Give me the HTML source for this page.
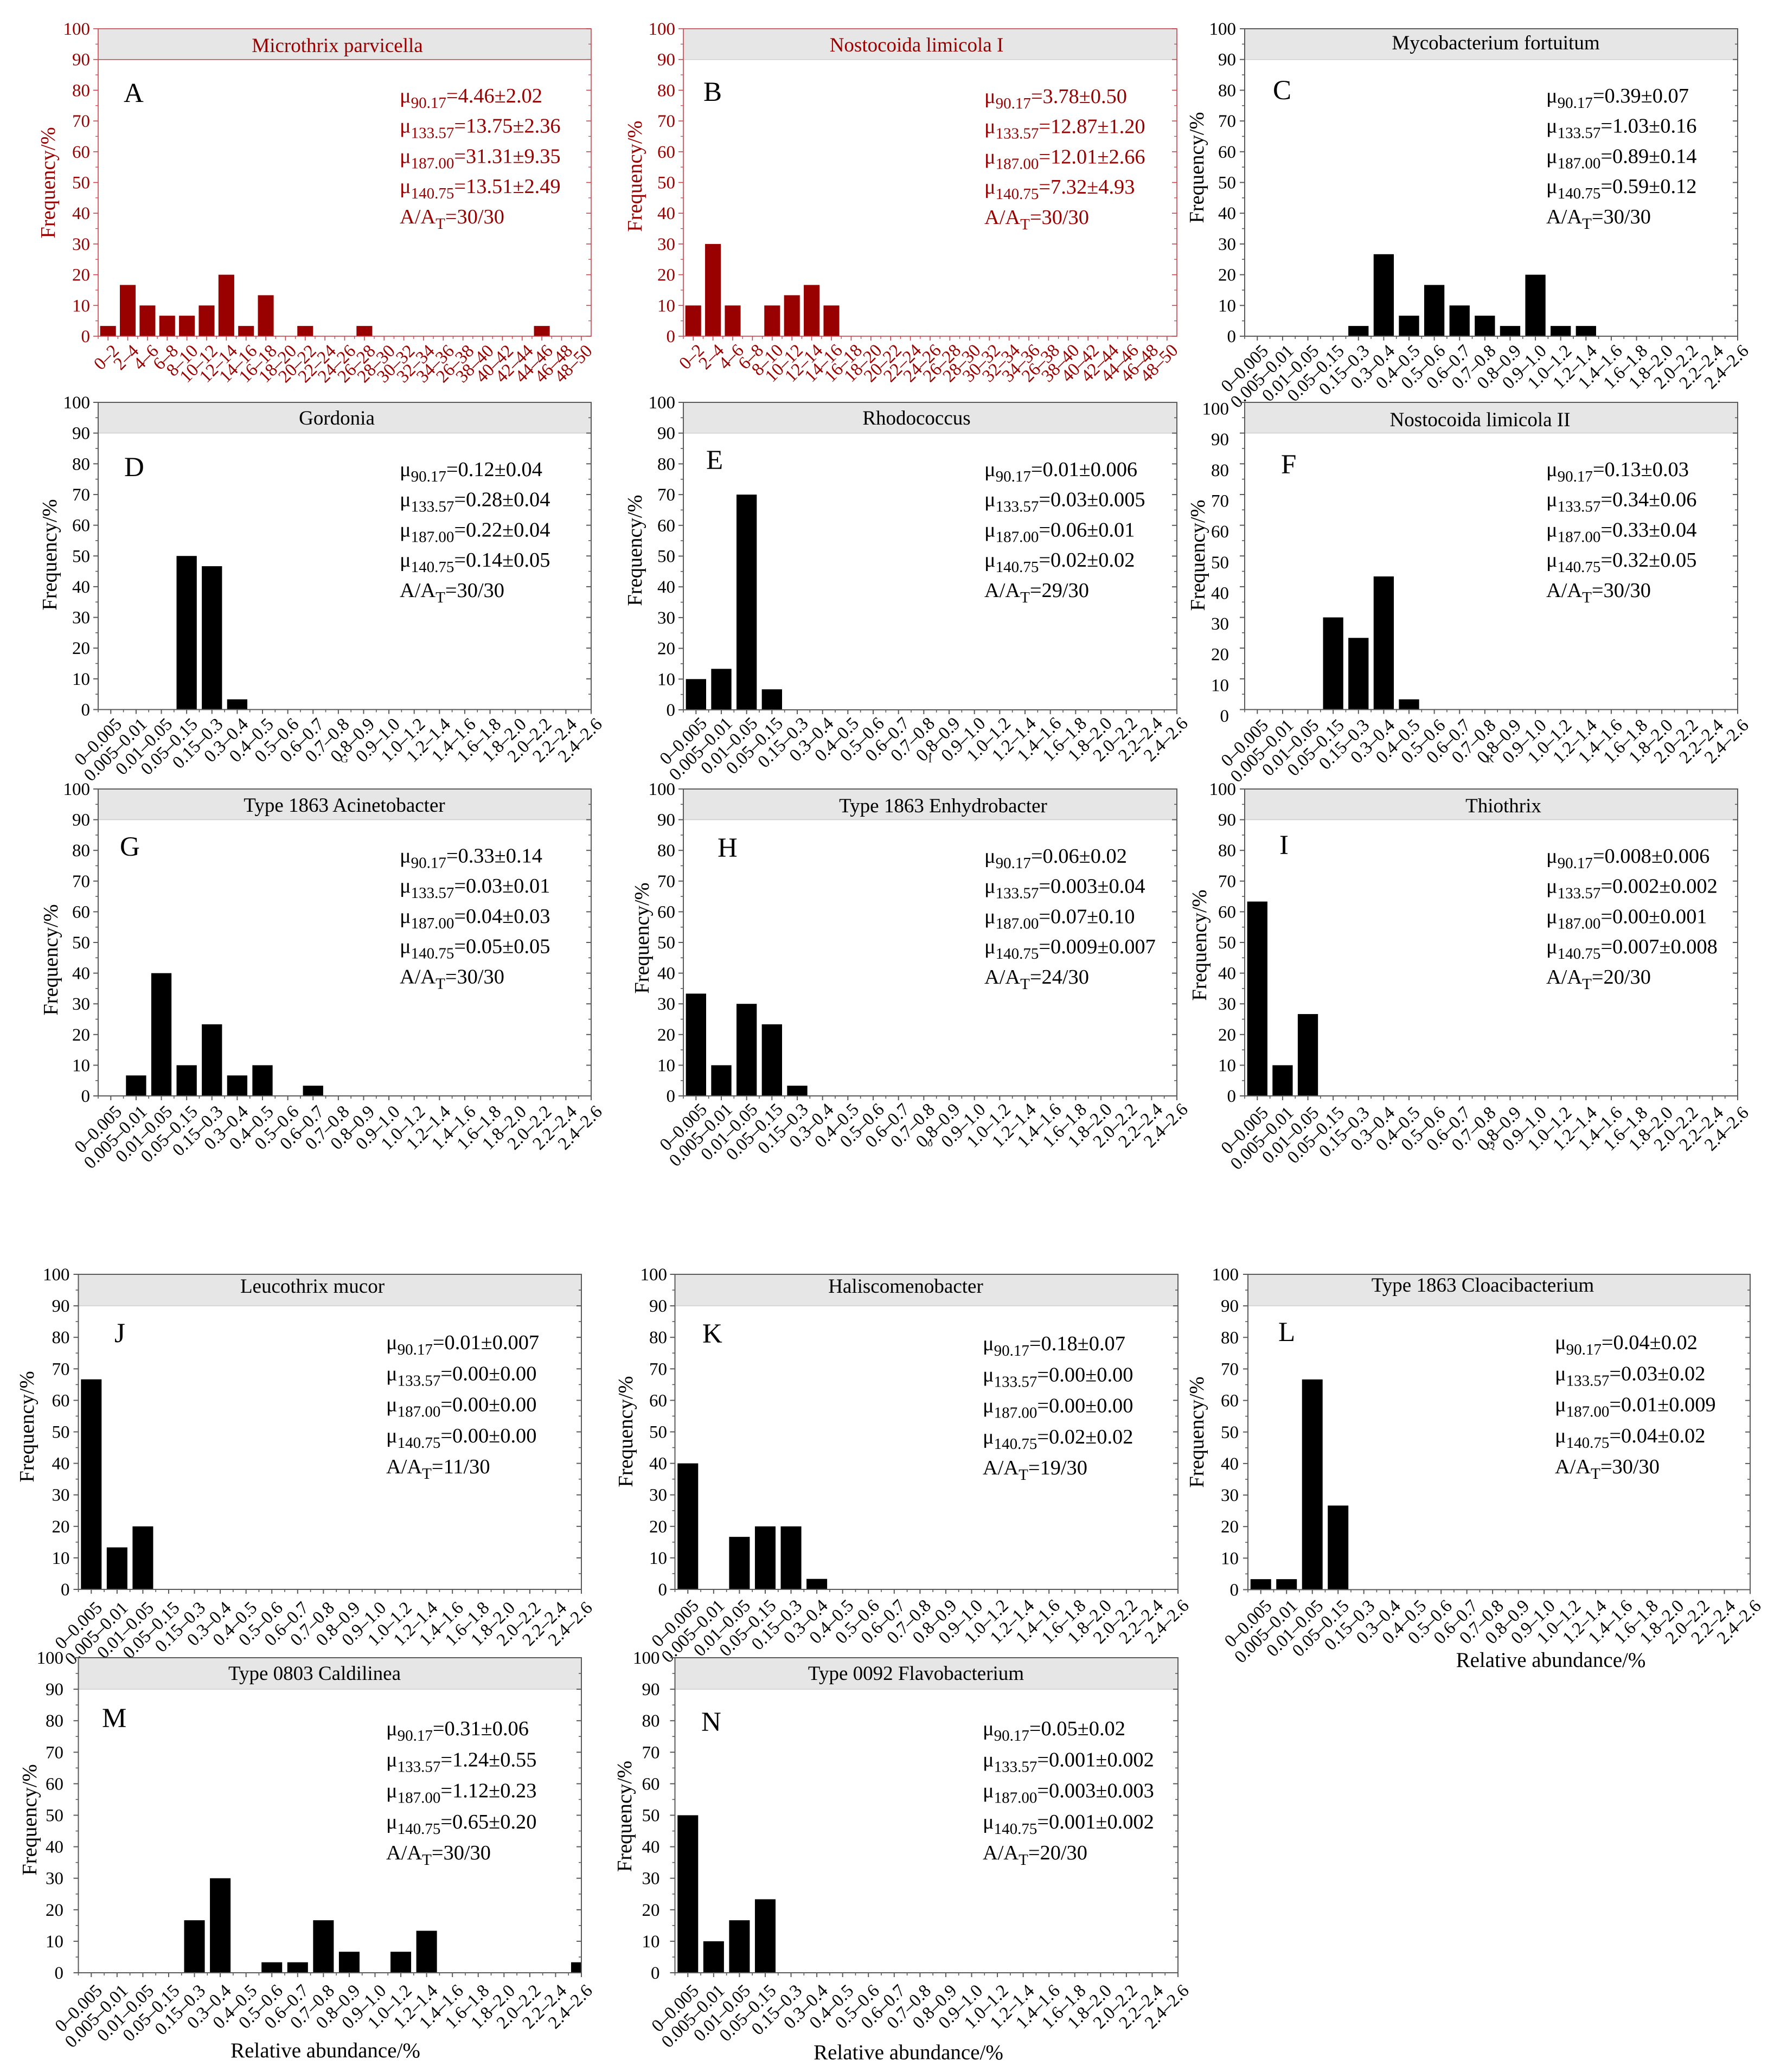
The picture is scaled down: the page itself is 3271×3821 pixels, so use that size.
<!DOCTYPE html>
<html lang="en">
<head>
<meta charset="utf-8">
<title>Frequency histograms of filamentous bacteria relative abundance</title>
<style>
  html, body { margin: 0; padding: 0; background: #ffffff; }
  svg { display: block; font-family: "Liberation Serif", "Times New Roman", serif; }
</style>
</head>
<body>
<svg id="figure" xmlns="http://www.w3.org/2000/svg" width="3271" height="3821" viewBox="0 0 3271 3821">
  <rect x="0" y="0" width="3271" height="3821" fill="#ffffff"></rect>
</svg>
<script>
const yTicks = [0, 10, 20, 30, 40, 50, 60, 70, 80, 90, 100];
const yMinorTicks = [5, 15, 25, 35, 45, 55, 65, 75, 85, 95];
const filamentBins = ['0–2','2–4','4–6','6–8','8–10','10–12','12–14','14–16','16–18','18–20','20–22','22–24','24–26','26–28','28–30','30–32','32–34','34–36','26–38','38–40','40–42','42–44','44–46','46–48','48–50'];
const abundanceBins = ['0–0.005','0.005–0.01','0.01–0.05','0.05–0.15','0.15–0.3','0.3–0.4','0.4–0.5','0.5–0.6','0.6–0.7','0.7–0.8','0.8–0.9','0.9–1.0','1.0–1.2','1.2–1.4','1.4–1.6','1.6–1.8','1.8–2.0','2.0–2.2','2.2–2.4','2.4–2.6'];

const valuesA = [3.33,16.67,10,6.67,6.67,10,20,3.33,13.33,0,3.33,0,0,3.33,0,0,0,0,0,0,0,0,3.33,0,0];
const valuesB = [10,30,10,0,10,13.33,16.67,10,0,0,0,0,0,0,0,0,0,0,0,0,0,0,0,0,0];
const valuesC = [0,0,0,0,3.33,26.67,6.67,16.67,10,6.67,3.33,20,3.33,3.33,0,0,0,0,0,0];
const valuesD = [0,0,0,50,46.67,3.33,0,0,0,0,0,0,0,0,0,0,0,0,0,0];
const valuesE = [10,13.33,70,6.67,0,0,0,0,0,0,0,0,0,0,0,0,0,0,0,0];
const valuesF = [0,0,0,30,23.33,43.33,3.33,0,0,0,0,0,0,0,0,0,0,0,0,0];
const valuesG = [0,6.67,40,10,23.33,6.67,10,0,3.33,0,0,0,0,0,0,0,0,0,0,0];
const valuesH = [33.33,10,30,23.33,3.33,0,0,0,0,0,0,0,0,0,0,0,0,0,0,0];
const valuesI = [63.33,10,26.67,0,0,0,0,0,0,0,0,0,0,0,0,0,0,0,0,0];
const valuesJ = [66.67,13.33,20,0,0,0,0,0,0,0,0,0,0,0,0,0,0,0,0,0];
const valuesK = [40,0,16.67,20,20,3.33,0,0,0,0,0,0,0,0,0,0,0,0,0,0];
const valuesL = [3.33,3.33,66.67,26.67,0,0,0,0,0,0,0,0,0,0,0,0,0,0,0,0];
const valuesM = [0,0,0,0,16.67,30,0,3.33,3.33,16.67,6.67,0,6.67,13.33,0,0,0,0,0,3.33];
const valuesN = [50,10,16.67,23.33,0,0,0,0,0,0,0,0,0,0,0,0,0,0,0,0];

const statKeys = ['90.17', '133.57', '187.00', '140.75'];
const statsA = ['4.46±2.02','13.75±2.36','31.31±9.35','13.51±2.49','30/30'];
const statsB = ['3.78±0.50','12.87±1.20','12.01±2.66','7.32±4.93','30/30'];
const statsC = ['0.39±0.07','1.03±0.16','0.89±0.14','0.59±0.12','30/30'];
const statsD = ['0.12±0.04','0.28±0.04','0.22±0.04','0.14±0.05','30/30'];
const statsE = ['0.01±0.006','0.03±0.005','0.06±0.01','0.02±0.02','29/30'];
const statsF = ['0.13±0.03','0.34±0.06','0.33±0.04','0.32±0.05','30/30'];
const statsG = ['0.33±0.14','0.03±0.01','0.04±0.03','0.05±0.05','30/30'];
const statsH = ['0.06±0.02','0.003±0.04','0.07±0.10','0.009±0.007','24/30'];
const statsI = ['0.008±0.006','0.002±0.002','0.00±0.001','0.007±0.008','20/30'];
const statsJ = ['0.01±0.007','0.00±0.00','0.00±0.00','0.00±0.00','11/30'];
const statsK = ['0.18±0.07','0.00±0.00','0.00±0.00','0.02±0.02','19/30'];
const statsL = ['0.04±0.02','0.03±0.02','0.01±0.009','0.04±0.02','30/30'];
const statsM = ['0.31±0.06','1.24±0.55','1.12±0.23','0.65±0.20','30/30'];
const statsN = ['0.05±0.02','0.001±0.002','0.003±0.003','0.001±0.002','20/30'];

const panelLayout = [
  {letter:'A',title:'Microthrix parvicella',bins:filamentBins,values:valuesA,stats:statsA,red:true,l:181,r:1090,t:53,b:620,xMax:25.5,ly:188,lx:228,tx:622,ty:96,sx:737,sy:189,sp:55.7,fx:101,fy:337,yDx:-15,yDy:0,xDy:29},
  {letter:'B',title:'Nostocoida limicola I',bins:filamentBins,values:valuesB,stats:statsB,red:true,l:1260,r:2170,t:53,b:620,xMax:25.5,ly:186,lx:1297,tx:1690,ty:95,sx:1815,sy:190,sp:55.7,fx:1183,fy:325,yDx:-15,yDy:0,xDy:28},
  {letter:'C',title:'Mycobacterium fortuitum',bins:abundanceBins,values:valuesC,stats:statsC,red:false,l:2295,r:3204,t:53,b:620,xMax:20,ly:183,lx:2347,tx:2758,ty:91,sx:2851,sy:189,sp:55.7,fx:2219,fy:309,yDx:-16,yDy:0,xDy:29},
  {letter:'D',title:'Gordonia',bins:abundanceBins,values:valuesD,stats:statsD,red:false,l:181,r:1090,t:742,b:1308.5,xMax:20,ly:878,lx:229,tx:621,ty:783,sx:737,sy:878,sp:55.7,fx:104,fy:1023,yDx:-15,yDy:0,xDy:29},
  {letter:'E',title:'Rhodococcus',bins:abundanceBins,values:valuesE,stats:statsE,red:false,l:1260,r:2170,t:742,b:1309,xMax:20,ly:865,lx:1302,tx:1690,ty:783,sx:1815,sy:878,sp:55.7,fx:1183,fy:1015,yDx:-15,yDy:0,xDy:27},
  {letter:'F',title:'Nostocoida limicola II',bins:abundanceBins,values:valuesF,stats:statsF,red:false,l:2295,r:3204,t:742,b:1308.5,xMax:20,ly:873,lx:2362,tx:2729,ty:786,sx:2851,sy:878,sp:55.7,fx:2221,fy:1024,yDx:-29,yDy:11.5,xDy:31},
  {letter:'G',title:'Type 1863 Acinetobacter',bins:abundanceBins,values:valuesG,stats:statsG,red:false,l:181,r:1090,t:1455,b:2021,xMax:20,ly:1578,lx:221,tx:635,ty:1497,sx:737,sy:1590.5,sp:55.7,fx:106,fy:1770,yDx:-15,yDy:0,xDy:31},
  {letter:'H',title:'Type 1863 Enhydrobacter',bins:abundanceBins,values:valuesH,stats:statsH,red:false,l:1260,r:2170,t:1455,b:2021,xMax:20,ly:1580,lx:1323,tx:1739,ty:1498,sx:1815,sy:1591,sp:55.7,fx:1196,fy:1730,yDx:-15,yDy:0,xDy:27},
  {letter:'I',title:'Thiothrix',bins:abundanceBins,values:valuesI,stats:statsI,red:false,l:2295,r:3204,t:1455,b:2021,xMax:20,ly:1575,lx:2359,tx:2772,ty:1498,sx:2851,sy:1591,sp:55.7,fx:2224,fy:1743,yDx:-16,yDy:0,xDy:33},
  {letter:'J',title:'Leucothrix mucor',bins:abundanceBins,values:valuesJ,stats:statsJ,red:false,l:144.5,r:1072,t:2350,b:2931,xMax:20,ly:2475,lx:211,tx:576,ty:2384,sx:712,sy:2488,sp:57.3,fx:62,fy:2631,yDx:-16,yDy:0,xDy:36},
  {letter:'K',title:'Haliscomenobacter',bins:abundanceBins,values:valuesK,stats:statsK,red:false,l:1244.5,r:2172,t:2350,b:2931,xMax:20,ly:2476,lx:1295,tx:1670,ty:2384,sx:1812,sy:2490,sp:57.3,fx:1166,fy:2640,yDx:-14.5,yDy:0,xDy:32},
  {letter:'L',title:'Type 1863 Cloacibacterium',bins:abundanceBins,values:valuesL,stats:statsL,red:false,l:2301,r:3227,t:2350,b:2931.5,xMax:20,ly:2473,lx:2357,tx:2734,ty:2382,sx:2867,sy:2488,sp:57.3,fx:2219,fy:2641,yDx:-17,yDy:0,xDy:32},
  {letter:'M',title:'Type 0803 Caldilinea',bins:abundanceBins,values:valuesM,stats:statsM,red:false,l:144.5,r:1072,t:3057,b:3638,xMax:20,ly:3185,lx:188,tx:580,ty:3098,sx:712,sy:3200,sp:57.3,fx:67,fy:3356,yDx:-27.5,yDy:0,xDy:35,xt:600,xty:3794},
  {letter:'N',title:'Type 0092 Flavobacterium',bins:abundanceBins,values:valuesN,stats:statsN,red:false,l:1244.5,r:2172,t:3057,b:3638,xMax:20,ly:3192,lx:1293,tx:1689,ty:3098,sx:1812,sy:3200,sp:57.3,fx:1164,fy:3349.5,yDx:-28,yDy:0,xDy:35,xt:1675,xty:3797.5}
];
panelLayout[11].xt = 2859.5;
panelLayout[11].xty = 3074;

const strayMarks = [
  {ch:'G',x:635,y:1406},{ch:'I',x:1715,y:1406},{ch:'K',x:2748,y:1406},
  {ch:'o',x:1715,y:2114},{ch:'Q',x:2749,y:2118}
];

const NS = 'http://www.w3.org/2000/svg';
const root = document.getElementById('figure');
const DARK_RED = '#990000';
const AXIS_RED = '#c8444a';
const AXIS_GREY = '#5a5a5a';

function make(parent, tag, attrs, text) {
  const el = document.createElementNS(NS, tag);
  for (const k in attrs) { el.setAttribute(k, attrs[k]); }
  if (text !== undefined) { el.textContent = text; }
  parent.appendChild(el);
  return el;
}

function addStatLine(group, x, y, fill, subText, valueText, prefix) {
  const line = make(group, 'text', {x: x, y: y, 'font-size': 38.4, fill: fill});
  
  
  make(line, 'tspan', {}, prefix);
  make(line, 'tspan', {dy: 10, 'font-size': 29}, subText);
  make(line, 'tspan', {dy: -10}, '=' + valueText);
}

function drawPanel(p) {
  const id = p.letter.toLowerCase();
  const g = make(root, 'g', {});
  
  

  const textFill = p.red ? DARK_RED : '#000000';
  const axisColor = p.red ? AXIS_RED : AXIS_GREY;
  const barFill = p.red ? DARK_RED : '#000000';
  const axisWidth = p.red ? 1.6 : 2;

  const yScale = v => p.b - (v / 100) * (p.b - p.t);
  const step = (p.r - p.l) / (p.xMax - 0.5);
  const xScale = i => p.l + (i + 0.5) * step;

  const band = make(g, 'rect', {x: p.l, y: yScale(100), width: p.r - p.l, height: yScale(90) - yScale(100), fill: '#e6e6e6'});
  
  

  const bandLine = make(g, 'line', {x1: p.l, x2: p.r, y1: yScale(90), y2: yScale(90), stroke: p.red && p.letter === 'A' ? AXIS_RED : '#cfcfcf', 'stroke-width': 1.5});
  
  

  p.values.forEach(function (v, i) {
    if (v <= 0) { return; }
    const w = step * 0.8;
    const cx = xScale(i);
    const x0 = cx - w / 2;
    const x1 = Math.min(cx + w / 2, p.r);
    const bar = make(g, 'rect', {x: x0, y: yScale(v), width: x1 - x0, height: yScale(0) - yScale(v), fill: barFill});
    
    
  });

  const frame = make(g, 'rect', {x: p.l, y: p.t, width: p.r - p.l, height: p.b - p.t, fill: 'none', stroke: axisColor, 'stroke-width': axisWidth});
  
  

  yTicks.forEach(function (v) {
    const y = yScale(v);
    const left = make(g, 'line', {x1: p.l - 9, x2: p.l, y1: y, y2: y, stroke: axisColor, 'stroke-width': axisWidth});
    
    
    const right = make(g, 'line', {x1: p.r - 9, x2: p.r, y1: y, y2: y, stroke: axisColor, 'stroke-width': axisWidth});
    
    
    const label = make(g, 'text', {x: p.l + p.yDx, y: y + 11 + p.yDy, 'font-size': 33, 'text-anchor': 'end', fill: textFill}, String(v));
    
    
  });

  yMinorTicks.forEach(function (v) {
    const y = yScale(v);
    const left = make(g, 'line', {x1: p.l - 5, x2: p.l, y1: y, y2: y, stroke: axisColor, 'stroke-width': axisWidth * 0.8});
    
    
    const right = make(g, 'line', {x1: p.r - 5, x2: p.r, y1: y, y2: y, stroke: axisColor, 'stroke-width': axisWidth * 0.8});
    
    
  });

  p.bins.forEach(function (bin, i) {
    const x = xScale(i);
    const tick = make(g, 'line', {x1: x, x2: x, y1: p.b, y2: p.b + 8, stroke: axisColor, 'stroke-width': axisWidth});
    
    
    const mx = x - step / 2;
    const minor = make(g, 'line', {x1: mx, x2: mx, y1: p.b, y2: p.b + 5, stroke: axisColor, 'stroke-width': axisWidth * 0.8});
    
    
    const ax = x + 22;
    const ay = p.b + p.xDy;
    const label = make(g, 'text', {x: ax, y: ay, 'font-size': 33, 'text-anchor': 'end', fill: textFill, transform: 'rotate(-45 ' + ax + ' ' + ay + ')'}, bin);
    
    
  });

  const title = make(g, 'text', {x: p.tx, y: p.ty, 'font-size': 37, 'text-anchor': 'middle', fill: textFill}, p.title);
  
  

  const letter = make(g, 'text', {x: p.lx, y: p.ly, 'font-size': 51, fill: '#000000'}, p.letter);
  
  

  const yTitle = make(g, 'text', {x: p.fx, y: p.fy, 'font-size': 38.5, 'text-anchor': 'middle', fill: textFill, transform: 'rotate(-90 ' + p.fx + ' ' + p.fy + ')'}, 'Frequency/%');
  
  

  statKeys.forEach(function (key, i) {
    addStatLine(g, p.sx, p.sy + i * p.sp, textFill, key, p.stats[i], 'μ');
  });
  addStatLine(g, p.sx, p.sy + 4 * p.sp, textFill, 'T', p.stats[4], 'A/A');

  if (p.xt !== undefined) {
    const xTitle = make(g, 'text', {x: p.xt, y: p.xty, 'font-size': 39, 'text-anchor': 'middle', fill: '#000000'}, 'Relative abundance/%');
    
    
  }
}

panelLayout.forEach(drawPanel);

strayMarks.forEach(function (m) {
  const mark = make(root, 'text', {x: m.x, y: m.y, 'font-size': 20, 'text-anchor': 'middle', fill: '#222222'}, m.ch);
  
  
});
</script>
</body>
</html>
